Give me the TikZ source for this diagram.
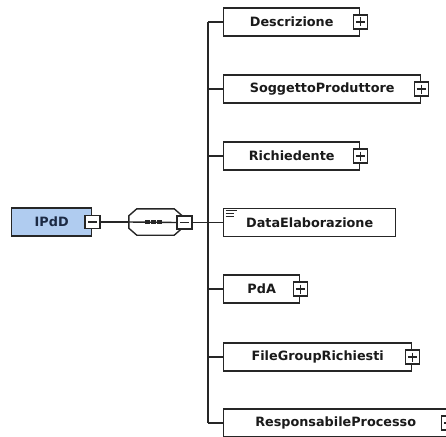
\documentclass[tikz,border=0pt]{standalone}
\usepackage{fontspec}
\setsansfont{DejaVu Sans}
\usetikzlibrary{calc}

\definecolor{rootfill}{HTML}{B0CCF0}
\definecolor{inkline}{HTML}{262626}
\definecolor{inktext}{HTML}{1A1A1A}
\definecolor{roottext}{HTML}{1C2A44}

\tikzset{
  elembox/.style={draw=inkline, line width=1.4pt, fill=white, minimum height=28pt,
    inner sep=0pt, anchor=west, text=inktext,
    font=\sffamily\bfseries\fontsize{12.8}{14}\selectfont},
  rootbox/.style={elembox, fill=rootfill, text=roottext},
  togglebox/.style={draw=inkline, line width=1.2pt, fill=white, minimum width=15pt,
    minimum height=13pt, inner sep=0pt},
  plusbox/.style={togglebox, minimum width=14pt, minimum height=14pt,
    path picture={
      \draw[line width=1.2pt] ([xshift=2.5pt]path picture bounding box.west) -- ([xshift=-2.5pt]path picture bounding box.east);
      \draw[line width=1.2pt] ([yshift=-2.5pt]path picture bounding box.north) -- ([yshift=2.5pt]path picture bounding box.south);}},
  minusbox/.style={togglebox,
    path picture={
      \draw[line width=1.2pt] ([xshift=3pt]path picture bounding box.west) -- ([xshift=-3pt]path picture bounding box.east);}},
  wire/.style={draw=inkline, line width=1.4pt},
  seqframe/.style={draw=inkline, line width=1.4pt, fill=white},
}

\begin{document}
\begin{tikzpicture}[x=1pt, y=-1pt]
  \useasboundingbox (0,0) rectangle (446,436);
  \clip (0,0) rectangle (446,436);

  % root element
  \node[rootbox, minimum width=80pt] (root) at (11,222) {IPdD};
  \node[minusbox] (rootminus) at (root.east) {};

  % sequence compositor
  \node[minimum width=53pt, minimum height=26pt, inner sep=0pt] (seq) at (155.5,222) {};
  \path[seqframe]
    ($(seq.north west)+(8,0)$) -- ($(seq.north east)+(-8,0)$) -- ($(seq.north east)+(0,7)$)
    -- ($(seq.south east)+(0,-7)$) -- ($(seq.south east)+(-8,0)$) -- ($(seq.south west)+(8,0)$)
    -- ($(seq.south west)+(0,-7)$) -- ($(seq.north west)+(0,7)$) -- cycle;
  \node[minusbox] (seqminus) at (184.5,222.5) {};
  \draw[wire] (seq.west) -- (seqminus.west);
  \foreach \dx in {147.5,153.5,159.5}
    \fill[inkline] (\dx-2.2,220) rectangle (\dx+2.2,224.4);

  % child elements
  \node[elembox, minimum width=136pt] (desc) at (223,22) {Descrizione};
  \node[elembox, minimum width=197pt] (sogg) at (223,89) {SoggettoProduttore};
  \node[elembox, minimum width=136pt] (rich) at (223,156) {Richiedente};
  \node[elembox, minimum width=172pt] (data) at (223,222.5) {DataElaborazione};
  \node[elembox, minimum width=76pt]  (pda)  at (223,289) {PdA};
  \node[elembox, minimum width=188pt] (file) at (223,357) {FileGroupRichiesti};
  \node[elembox, minimum width=224pt] (resp) at (223,423) {ResponsabileProcesso};

  \foreach \n in {desc,sogg,rich,pda,file,resp}
    \node[plusbox] (\n plus) at (\n.east) {};

  % simple-content marker
  \foreach \dy/\len in {2.5/11,5.5/8,8.5/8}
    \draw[inkline, line width=1pt] ([xshift=2.5pt, yshift=-\dy pt]data.north west) -- ++(\len,0);

  % connectors
  \coordinate (bus) at (208,222.5);
  \coordinate (bustop) at (208,22);
  \coordinate (busbottom) at (208,423);
  \draw[wire] (rootminus.east) -- (seq.west);
  \draw[wire] (seqminus.east) -- (bus);
  \draw[wire] (bustop) -- (busbottom);
  \foreach \n in {desc,sogg,rich,data,pda,file,resp}
    \draw[wire] (\n.west -| bus) -- (\n.west);
\end{tikzpicture}
\end{document}
